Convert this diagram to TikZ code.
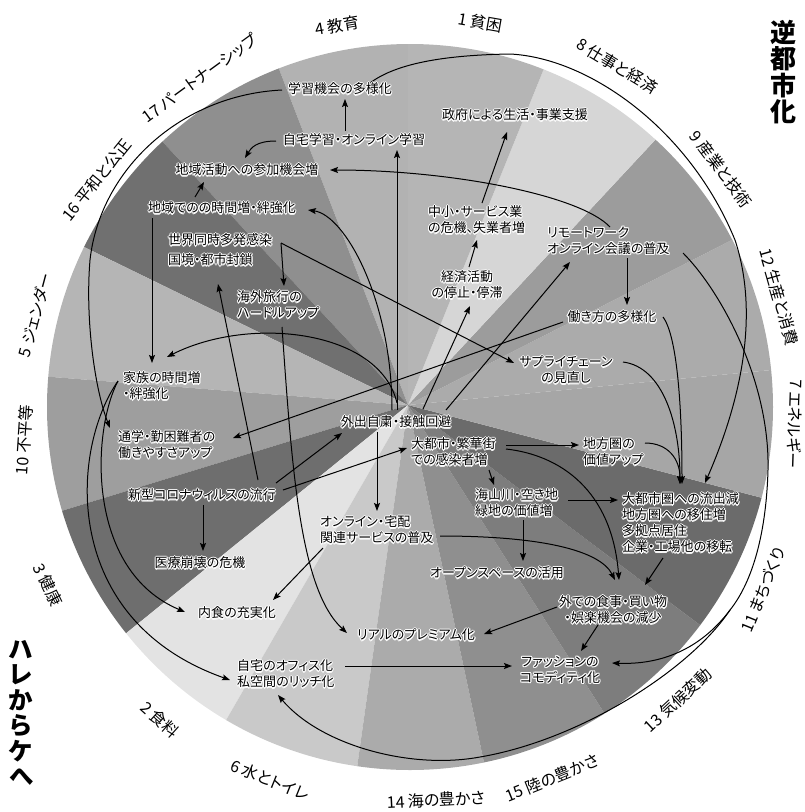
\documentclass[tikz,border=0pt]{standalone}
\usepackage{fontspec}
\setmainfont{Noto Sans CJK JP}[RawFeature=+palt]
\usetikzlibrary{calc,arrows.meta}
\pgfdeclarelayer{bg}
\pgfdeclarelayer{mid}
\pgfsetlayers{bg,mid,main}
\tikzset{
  lab/.style={inner sep=0pt, font=\fontsize{13}{16}\selectfont},
  rim/.style={inner sep=0pt, font=\fontsize{16}{18}\selectfont},
  arr/.style={-{Stealth[length=8pt,width=6pt,inset=1.5pt]}, line width=1pt},
  ln/.style={line width=1pt},
}
\newcommand\lbl[4][]{%
  \foreach \dx/\dy in {-1.2/0,1.2/0,0/-1.2,0/1.2,-0.85/-0.85,0.85/0.85,-0.85/0.85,0.85/-0.85}{%
    \node[lab,#1,text=white,xshift=\dx pt,yshift=\dy pt] at (#3) {#4};}%
  \node[lab,#1] (#2) at (#3) {#4};}
\begin{document}
\begin{tikzpicture}[x=1pt,y=-1pt]
\useasboundingbox (0,0) rectangle (804,812);
\coordinate (ctr) at (408,405);
% ---------- sectors
\begin{pgfonlayer}{bg}
\begin{scope}
\clip (410,407) circle (363);
\foreach \a/\b/\g in {90/111/30,111/133/44,133/154/56,154/175.5/29,175.5/197/38,197/219/57,219/240/11,240/262/21,262/282/33,282/302.5/44,302.5/323/51,323/345.3/58,345.3/365.5/35,5.5/27/33,27/47/39,47/68/16,68/90/29}{
  \fill[black!\g] (ctr) -- +(-\a:700) -- +(-\b:700) -- cycle;}
\end{scope}
\end{pgfonlayer}
% ---------- rim labels
\node[rim,rotate=-10] (r1) at (480,22) {1 貧困};
\node[rim,rotate=10] (r4) at (337,26) {4 教育};
\node[rim,rotate=-31] (r8) at (617,66) {8 仕事と経済};
\node[rim,rotate=-53] (r9) at (721,169) {9 産業と技術};
\node[rim,rotate=-74] (r12) at (779,297) {12 生産と消費};
\node[rim,rotate=-92] (r7) at (795,424) {7 エネルギー};
\node[rim,rotate=68] (r11) at (763,590) {11 まちづくり};
\node[rim,rotate=43] (r13) at (678,700) {13 気候変動};
\node[rim,rotate=22] (r15) at (552,778) {15 陸の豊かさ};
\node[rim,rotate=3] (r14) at (436,800) {14 海の豊かさ};
\node[rim,rotate=-22] (r6) at (270,780) {6 水とトイレ};
\node[rim,rotate=-42] (r2) at (160,720) {2 食料};
\node[rim,rotate=-64] (r3) at (48,585) {3 健康};
\node[rim,rotate=86] (r10) at (24,440) {10 不平等};
\node[rim,rotate=75] (r5) at (35,315) {5 ジェンダー};
\node[rim,rotate=51] (r16) at (97,180) {16 平和と公正};
\node[rim,rotate=36] (r17) at (200,78) {17 パートナーシップ};
% ---------- titles
\node[inner sep=0pt,align=center,font=\bfseries\fontsize{26}{26.5}\selectfont] (t1) at (783,72) {逆\\都\\市\\化};
\node[inner sep=0pt,align=center,font=\bfseries\fontsize{24.5}{25.5}\selectfont] (t2) at (21,713) {ハ\\レ\\か\\ら\\ケ\\へ};
% ---------- labels
\lbl{lrn}{340,89}{学習機会の多様化}
\lbl{home}{354,140}{自宅学習・オンライン学習}
\lbl{act}{247,170}{地域活動への参加機会増}
\lbl{loc}{222,208}{地域でのの時間増・絆強化}
\lbl[anchor=west,align=left]{world}{168,250}{世界同時多発感染\\[4pt]国境・都市封鎖}
\lbl[anchor=west,align=left]{trav}{237,305}{海外旅行の\\ハードルアップ}
\lbl[anchor=west,align=left]{sme}{428,220}{中小・サービス業\\の危機、失業者増}
\lbl{gov}{515,115}{政府による生活・事業支援}
\lbl[anchor=west,align=left]{rem}{547,241}{リモートワーク\\オンライン会議の普及}
\lbl[align=center]{econ}{467,285}{経済活動\\の停止・停滞}
\lbl{work}{612,317}{働き方の多様化}
\lbl[align=center]{supp}{566,370}{サプライチェーン\\の見直し}
\lbl[anchor=west,align=left]{fam}{123,386}{家族の時間増\\・絆強化}
\lbl[anchor=west,align=left]{comm}{118,445}{通学・勤困難者の\\働きやすさアップ}
\lbl{hub}{396,422}{外出自粛・接触回避}
\lbl[anchor=west,align=left]{city}{411,452}{大都市・繁華街\\での感染者増}
\lbl[anchor=west,align=left]{rval}{583,452}{地方圏の\\価値アップ}
\lbl[anchor=west,align=left]{nat}{475,503}{海山川・空き地\\緑地の価値増}
\lbl[anchor=west,align=left]{mig}{622,523}{大都市圏への流出減\\地方圏への移住増\\多拠点居住\\企業・工場他の移転}
\lbl[anchor=west,align=left]{onl}{320,530}{オンライン・宅配\\関連サービスの普及}
\lbl{covid}{202,495}{新型コロナウィルスの流行}
\lbl{med}{200,563}{医療崩壊の危機}
\lbl{open}{497,573}{オープンスペースの活用}
\lbl[align=center]{out}{613,610}{外での食事・買い物\\・娯楽機会の減少}
\lbl{cook}{237,613}{内食の充実化}
\lbl{real}{416,635}{リアルのプレミアム化}
\lbl[anchor=west,align=left]{office}{237,674}{自宅のオフィス化\\私空間のリッチ化}
\lbl[align=center]{fash}{560,670}{ファッションの\\コモディティ化}
% ---------- waypoints
\coordinate (q1) at (510,54);
\coordinate (q2) at (735,240);
\coordinate (p1) at (768,470);
\coordinate (sp) at (730,610);
\coordinate (p2) at (480,757);
\coordinate (l1) at (90,260);
% ---------- connectors
\begin{pgfonlayer}{mid}
\draw[arr] ($(home)+(-9,-9)$) -- ($(lrn)+(5,10)$);
\draw[arr] ($(home)+(-78,1)$) .. controls +(-20,0) and +(6,-10) .. ($(act)+(-2,-12)$);
\draw[arr] ($(rem.west)+(63,-14)$) .. controls +(-30,-32) and +(120,0) .. ($(act)+(83,0)$);
\draw[arr] ($(loc)+(-27,-11)$) -- ($(act)+(-43,12)$);
\draw[arr] ($(hub)+(-4,-12)$) .. controls +(0,-110) and +(37,5) .. ($(loc)+(86,2)$);
\draw[arr] ($(hub)+(1,-12)$) -- ($(home)+(43,10)$);
\draw[arr] ($(sme.west)+(54,-17)$) -- ($(gov)+(-8,17)$);
\draw[arr] ($(econ)+(2,-18)$) -- ($(sme.west)+(49,20)$);
\draw[arr] ($(hub)+(27,-13)$) -- ($(econ)+(3,21)$);
\draw[arr] ($(hub)+(50,-12)$) -- ($(rem.west)+(23,21)$);
\draw[arr] ($(rem.west)+(80,17)$) -- ($(work)+(15,-12)$);
\draw[arr] ($(work)+(-49,5)$) -- ($(comm.west)+(115,-7)$);
\draw[arr] ($(world.west)+(113,-7)$) -- ($(supp)+(-52,-7)$);
\draw[arr] ($(world.west)+(113,-7)$) -- ($(trav.west)+(47,-19)$);
\draw[arr] ($(trav.west)+(45,22)$) .. controls +(10,143) and +(-47,-43) .. ($(real)+(-69,-2)$);
\draw[arr] ($(covid)+(56,-15)$) -- ($(world.west)+(50,34)$);
\draw[arr] ($(covid)+(74,-12)$) -- ($(hub)+(-54,11)$);
\draw[arr] ($(covid)+(81,-5)$) -- ($(city.west)+(-4,-4)$);
\draw[arr] ($(covid)+(1,10)$) -- ($(med)+(3,-12)$);
\draw[arr] ($(hub)+(1,-19)$) .. controls +(-17,-73) and +(83,-42) .. ($(fam.west)+(44,-29)$);
\draw[arr] ($(loc)+(-70,10)$) -- ($(fam.west)+(29,-23)$);
\draw[arr] ($(fam.west)+(-5,-5)$) .. controls +(-26,49) and +(-100,-42) .. ($(cook)+(-52,-1)$);
\draw[arr] ($(fam.west)+(-5,-5)$) .. controls +(-48,69) and +(-170,-60) .. ($(office.west)+(-7,6)$);
\draw[arr] ($(hub)+(-19,10)$) -- ($(onl.west)+(57,-19)$);
\draw[arr] ($(onl.west)+(3,18)$) -- ($(cook)+(36,-13)$);
\draw[arr] ($(onl.west)+(120,6)$) .. controls +(100,0) and +(-15,-30) .. ($(out)+(2,-30)$);
\draw[arr] ($(city.west)+(95,-7)$) -- ($(rval.west)+(-4,-7)$);
\draw[arr] ($(city.west)+(78,18)$) -- ($(nat.west)+(19,-18)$);
\draw[arr] ($(city.west)+(95,-3)$) .. controls +(54,6) and +(-7,-90) .. ($(out)+(6,-30)$);
\draw[arr] ($(nat.west)+(93,-3)$) -- ($(mig.west)+(-4,-23)$);
\draw[arr] ($(nat.west)+(48,17)$) -- ($(open)+(26,-12)$);
\draw[arr] ($(rval.west)+(62,-9)$) .. controls +(23,0) and +(0,-25) .. ($(mig.west)+(58,-39)$);
\draw[arr] ($(supp)+(57,-8)$) .. controls +(40,5) and +(0,-60) .. ($(mig.west)+(58,-39)$);
\draw[arr] ($(work)+(51,0)$) .. controls +(15,20) and +(0,-70) .. ($(mig.west)+(60,-39)$);
\draw[arr] ($(lrn)+(30,-6)$) .. controls (398,62) and (450,55) .. (q1)
   .. controls (590,58) and (690,130) .. (q2)
   .. controls (755,300) and (750,380) .. ($(mig.west)+(83,-40)$);
\draw[arr] ($(mig.west)+(41,35)$) -- ($(out)+(32,-25)$);
\draw[arr] ($(out)+(-56,-3)$) -- ($(real)+(68,-1)$);
\draw[arr] ($(out)+(-15,15)$) -- ($(fash)+(21,-19)$);
\draw[arr] ($(office.west)+(108,-8)$) -- ($(fash)+(-48,-4)$);
\draw[ln] ($(rem.west)+(136,12)$) .. controls (720,290) and (770,380) .. (p1)
   .. controls (766,540) and (750,585) .. (sp);
\draw[arr] (sp) .. controls (700,650) and (660,665) .. ($(fash)+(52,-7)$);
\draw[arr] (sp) .. controls (690,670) and (580,740) .. (p2)
   .. controls (410,770) and (320,745) .. ($(office.west)+(41,21)$);
\draw[arr] ($(lrn)+(-58,1)$) .. controls (180,95) and (100,170) .. (l1)
   .. controls (85,320) and (95,390) .. ($(comm.west)+(-8,-17)$);
\end{pgfonlayer}
\end{tikzpicture}
\end{document}
